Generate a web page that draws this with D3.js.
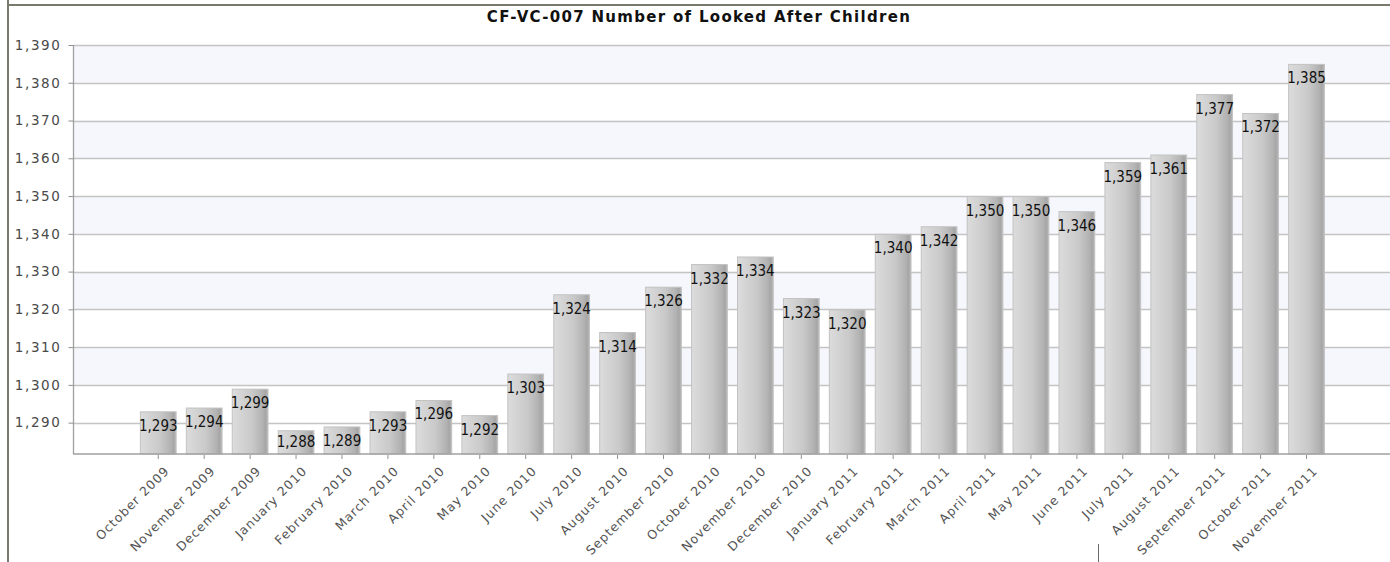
<!DOCTYPE html>
<html>
<head>
<meta charset="utf-8">
<script src="https://cdn.jsdelivr.net/npm/d3@7"></script>
<style>
  html, body { margin: 0; padding: 0; background: #ffffff; }
  svg { display: block; }
</style>
</head>
<body>
<svg id="chart" width="1390" height="562"></svg>
<script>
// Monthly count of looked after children
const months = [
  "October 2009", "November 2009", "December 2009", "January 2010", "February 2010",
  "March 2010", "April 2010", "May 2010", "June 2010", "July 2010", "August 2010",
  "September 2010", "October 2010", "November 2010", "December 2010", "January 2011",
  "February 2011", "March 2011", "April 2011", "May 2011", "June 2011", "July 2011",
  "August 2011", "September 2011", "October 2011", "November 2011"
];
const children = [
  1293, 1294, 1299, 1288, 1289, 1293, 1296, 1292, 1303, 1324, 1314, 1326, 1332,
  1334, 1323, 1320, 1340, 1342, 1350, 1350, 1346, 1359, 1361, 1377, 1372, 1385
];
const yTicks = [1290, 1300, 1310, 1320, 1330, 1340, 1350, 1360, 1370, 1380, 1390];
const title = "CF-VC-007 Number of Looked After Children";

const svg = d3.select("#chart");
const W = 1390, H = 562;

const plotLeft = 73, plotRight = 1390, plotTop = 45, plotBottom = 454;

const x = d3.scaleBand()
  .domain(months)
  .range([135.3, 1329.5])
  .paddingInner(0.2)
  .paddingOuter(0.1);

const y = d3.scaleLinear()
  .domain([1281.7, 1390])
  .range([plotBottom, plotTop]);

const fmt = d3.format(",");

// bar gradient
const defs = svg.append("defs");
const grad = defs.append("linearGradient").attr("id", "barGrad")
  .attr("x1", "0%").attr("x2", "100%").attr("y1", "0%").attr("y2", "0%");
[["0%", "#dcdcdc"], ["55%", "#c9c9c9"], ["85%", "#b2b2b2"], ["93%", "#a6a6a6"], ["100%", "#b9b9b9"]]
  .forEach(([o, c]) => grad.append("stop").attr("offset", o).attr("stop-color", c));

// frame lines
svg.append("line").attr("x1", 7).attr("x2", W).attr("y1", 5).attr("y2", 5)
  .attr("stroke", "#7a7a6c").attr("stroke-width", 2);
svg.append("line").attr("x1", 8).attr("x2", 8).attr("y1", 0).attr("y2", H)
  .attr("stroke", "#7a7a6c").attr("stroke-width", 2);
svg.append("line").attr("x1", 1098.5).attr("x2", 1098.5).attr("y1", 544).attr("y2", H)
  .attr("stroke", "#6a6a6a").attr("stroke-width", 1);

// title
svg.append("text")
  .attr("x", 699).attr("y", 21.5)
  .attr("text-anchor", "middle")
  .attr("font-family", "DejaVu Sans, Verdana, sans-serif")
  .attr("font-weight", "bold")
  .attr("font-size", 15)
  .attr("letter-spacing", "1.3px")
  .attr("fill", "#111")
  .text(title);

// alternating bands between grid lines
const bandPairs = d3.pairs(yTicks).filter((p, i) => i % 2 === 1);
svg.append("g").selectAll("rect").data(bandPairs).join("rect")
  .attr("x", plotLeft).attr("width", plotRight - plotLeft)
  .attr("y", d => y(d[1])).attr("height", d => y(d[0]) - y(d[1]))
  .attr("fill", "#f6f7fd");

// grid lines
svg.append("g").selectAll("line").data(yTicks).join("line")
  .attr("x1", plotLeft).attr("x2", plotRight)
  .attr("y1", d => Math.round(y(d)) + 0.5).attr("y2", d => Math.round(y(d)) + 0.5)
  .attr("stroke", "#c4c4c4").attr("stroke-width", 1.3);

// y axis
const yAxis = svg.append("g")
  .attr("transform", `translate(${plotLeft + 0.5},0)`)
  .call(d3.axisLeft(y).tickValues(yTicks).tickFormat(fmt).tickSize(5).tickPadding(7));
yAxis.select(".domain").attr("stroke", "#a0a0a0").attr("stroke-width", 1.3)
  .attr("d", `M0,${plotTop}V${plotBottom}`);
yAxis.selectAll(".tick line").attr("stroke", "#909090");
yAxis.selectAll(".tick text")
  .attr("font-family", "DejaVu Sans, Verdana, sans-serif")
  .attr("font-size", 13.5)
  .attr("letter-spacing", "1.6px")
  .attr("fill", "#4a4a4a");

// bars
svg.append("g").selectAll("rect").data(children).join("rect")
  .attr("x", (d, i) => x(months[i]) + 0.5)
  .attr("y", d => y(d) + 0.5)
  .attr("width", x.bandwidth() - 1)
  .attr("height", d => plotBottom - y(d) - 0.5)
  .attr("fill", "url(#barGrad)")
  .attr("stroke", "#c2c2c2")
  .attr("stroke-width", 1);

// x axis
const xAxis = svg.append("g")
  .attr("transform", `translate(0,${plotBottom})`)
  .call(d3.axisBottom(x).tickSize(5).tickPadding(4));
xAxis.select(".domain").attr("stroke", "#a0a0a0").attr("stroke-width", 1.6)
  .attr("d", `M${plotLeft},0H${plotRight}`);
xAxis.selectAll(".tick line").attr("stroke", "#909090").attr("y1", 1);
xAxis.selectAll(".tick text")
  .attr("font-family", "DejaVu Sans, Verdana, sans-serif")
  .attr("font-size", 12.5)
  .attr("letter-spacing", "1px")
  .attr("fill", "#555")
  .attr("text-anchor", "end")
  .attr("dy", "0.5em")
  .attr("transform", "translate(1,7) rotate(-45)");

// value labels
svg.append("g").selectAll("text").data(children).join("text")
  .attr("x", (d, i) => x(months[i]) + x.bandwidth() / 2)
  .attr("y", d => Math.min(y(d) + 19.5, plotBottom - 7))
  .attr("text-anchor", "middle")
  .attr("font-family", "DejaVu Sans Condensed, DejaVu Sans, sans-serif")
  .attr("font-size", 15)
  .attr("fill", "#111")
  .text(d => fmt(d));
</script>
</body>
</html>
